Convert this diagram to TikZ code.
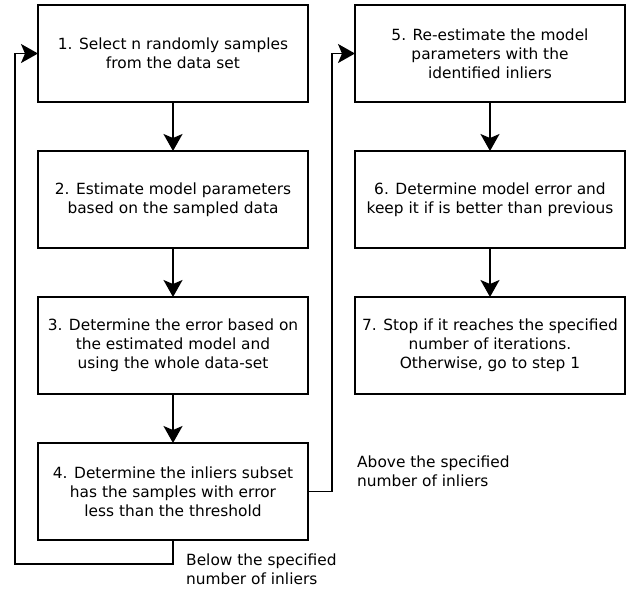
\documentclass[tikz,border=0pt]{standalone}
\usepackage{fontspec}
\setmainfont{DejaVu Sans}
\usetikzlibrary{positioning, arrows.meta}
\tikzset{
  node distance=49pt and 47pt,
  proc/.style={
      rectangle,
      draw,
      line width=1.8pt,
      outer sep=0pt,
      minimum height=97pt,
      minimum width=270pt,
      align=center,
      font=\fontsize{15.4}{19}\selectfont
    },
  arr/.style={
      -{Stealth[length=17pt, width=19pt, inset=4pt]},
      line width=1.8pt
    },
  note/.style={
      align=left,
      anchor=north west,
      inner sep=0pt,
      font=\fontsize{15.4}{19}\selectfont
    }
}

\begin{document}
\begin{tikzpicture}[x=1pt, y=-1pt]
  \useasboundingbox (0,0) rectangle (641,590);
  % left column
  \node[proc] (s1) at (173,53.5) {1. Select n randomly samples\\from the data set};
  \node[proc, below=of s1] (s2) {2. Estimate model parameters\\based on the sampled data};
  \node[proc, below=of s2] (s3) {3. Determine the error based on\\the estimated model and\\using the whole data-set};
  \node[proc, below=of s3] (s4) {4. Determine the inliers subset\\has the samples with error\\less than the threshold};
  % right column
  \node[proc, right=of s1] (s5) {5. Re-estimate the model\\parameters with the\\identified inliers};
  \node[proc, below=of s5] (s6) {6. Determine model error and\\keep it if is better than previous};
  \node[proc, below=of s6] (s7) {7. Stop if it reaches the specified\\number of iterations.\\Otherwise, go to step 1};
  \draw[arr] (s1) -- (s2);
  \draw[arr] (s2) -- (s3);
  \draw[arr] (s3) -- (s4);
  \draw[arr] (s5) -- (s6);
  \draw[arr] (s6) -- (s7);
  % loops
  \coordinate (lb) at (15,564);
  \coordinate (rb) at (332,491.5);
  \draw[arr] (s4.south) |- (lb) |- (s1.west);
  \draw[arr] (s4.east) -- (s4.east -| rb) |- (s5.west);
  \node[note] (below) at (186,554) {Below the specified\\number of inliers};
  \node[note] (above) at (357,456) {Above the specified\\number of inliers};
\end{tikzpicture}
\end{document}
